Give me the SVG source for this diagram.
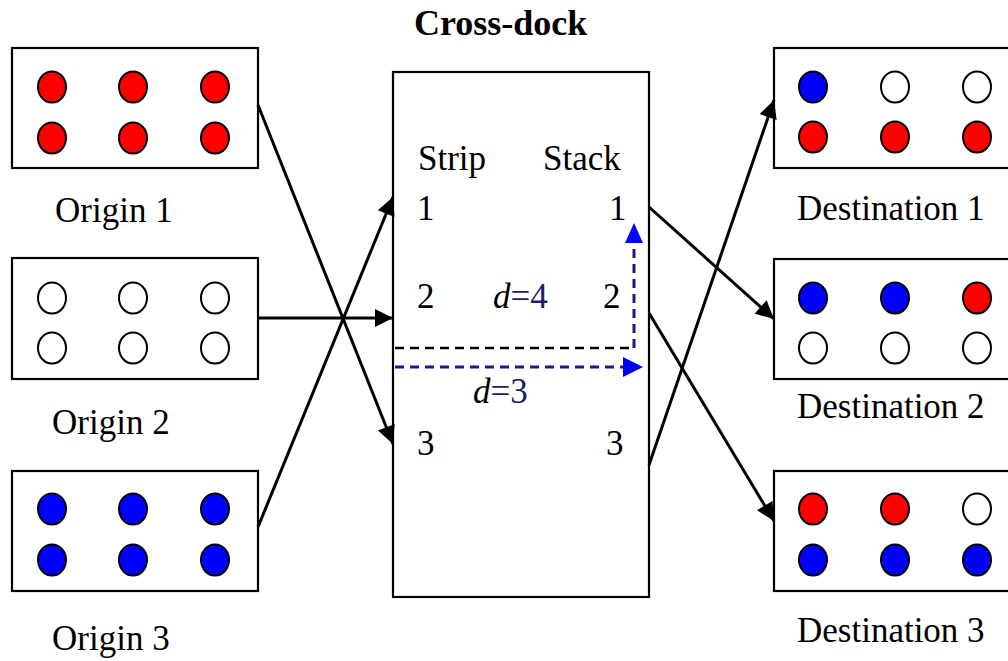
<svg xmlns="http://www.w3.org/2000/svg" width="1008" height="661" viewBox="0 0 1008 661">
  <style>
    .box { fill: #ffffff; stroke: #000000; stroke-width: 2.2; }
    .lbl { font-family: "Liberation Serif", "Times New Roman", serif; font-size: 35px; fill: #000000; }
    .title { font-family: "Liberation Serif", "Times New Roman", serif; font-size: 36px; font-weight: bold; fill: #000000; }
    .dot { stroke: #000000; stroke-width: 2; }
    .red { fill: #ff0000; }
    .blue { fill: #0000ff; }
    .empty { fill: #ffffff; }
    .flow { stroke: #000000; stroke-width: 3; fill: none; marker-end: url(#arrow); }
    .dash-k { stroke: #000000; stroke-width: 2.5; stroke-dasharray: 9 6; fill: none; }
    .dash-b { stroke: #1a1a8c; stroke-width: 3; stroke-dasharray: 9 6; fill: none; }
    .navy { fill: #1a1a6e; }
  </style>
  <defs>
    <marker id="arrow" viewBox="0 0 10 10" refX="10" refY="5" markerWidth="7.5" markerHeight="6" markerUnits="strokeWidth" orient="auto">
      <path d="M0,0 L10,5 L0,10 z" fill="#000000"/>
    </marker>
  </defs>

  <rect width="1008" height="661" fill="#ffffff"/>

  <!-- Origins -->
  <g id="origin1">
    <rect class="box" x="12" y="48" width="246" height="120"/>
    <g class="dot red">
      <ellipse cx="52" cy="87" rx="14" ry="15.5"/><ellipse cx="133" cy="87" rx="14" ry="15.5"/><ellipse cx="215" cy="87" rx="14" ry="15.5"/>
      <ellipse cx="52" cy="138" rx="14" ry="15.5"/><ellipse cx="133" cy="138" rx="14" ry="15.5"/><ellipse cx="215" cy="138" rx="14" ry="15.5"/>
    </g>
    <text class="lbl" x="55" y="222">Origin 1</text>
  </g>

  <g id="origin2">
    <rect class="box" x="12" y="258" width="246" height="121"/>
    <g class="dot empty">
      <ellipse cx="52" cy="298" rx="14" ry="15.5"/><ellipse cx="133" cy="298" rx="14" ry="15.5"/><ellipse cx="215" cy="298" rx="14" ry="15.5"/>
      <ellipse cx="52" cy="348" rx="14" ry="15.5"/><ellipse cx="133" cy="348" rx="14" ry="15.5"/><ellipse cx="215" cy="348" rx="14" ry="15.5"/>
    </g>
    <text class="lbl" x="52" y="434">Origin 2</text>
  </g>

  <g id="origin3">
    <rect class="box" x="12" y="471" width="246" height="120"/>
    <g class="dot blue">
      <ellipse cx="52" cy="509" rx="14" ry="15.5"/><ellipse cx="133" cy="509" rx="14" ry="15.5"/><ellipse cx="215" cy="509" rx="14" ry="15.5"/>
      <ellipse cx="52" cy="560" rx="14" ry="15.5"/><ellipse cx="133" cy="560" rx="14" ry="15.5"/><ellipse cx="215" cy="560" rx="14" ry="15.5"/>
    </g>
    <text class="lbl" x="52" y="650">Origin 3</text>
  </g>

  <!-- Cross-dock with strip and stack doors -->
  <g id="crossdock">
    <text class="title" x="414" y="35">Cross-dock</text>
    <rect class="box" x="393" y="72" width="256" height="525"/>
    <text class="lbl" x="418" y="170">Strip</text>
    <text class="lbl" x="543" y="170">Stack</text>
    <text class="lbl" x="417" y="220">1</text>
    <text class="lbl" x="609" y="220">1</text>
    <text class="lbl" x="417" y="308">2</text>
    <text class="lbl" x="603" y="308">2</text>
    <text class="lbl" x="417" y="455">3</text>
    <text class="lbl" x="606" y="455">3</text>
  </g>

  <!-- Travel distances inside the dock -->
  <g id="distances">
    <path class="dash-k" d="M395,348 H634"/>
    <path class="dash-b" d="M634,348 V240"/>
    <path d="M625,243 L634,223 L643,243 z" fill="#0000ff"/>
    <path class="dash-b" d="M395,367 H624"/>
    <path d="M623,357 L643,367 L623,377 z" fill="#0000ff"/>
    <text class="lbl" x="493" y="308"><tspan font-style="italic">d</tspan><tspan class="navy">=4</tspan></text>
    <text class="lbl" x="473" y="403"><tspan font-style="italic">d</tspan><tspan class="navy">=3</tspan></text>
  </g>

  <!-- Destinations -->
  <g id="destination1">
    <rect class="box" x="774" y="48" width="245" height="120"/>
    <g class="dot">
      <ellipse class="blue" cx="813" cy="87" rx="14" ry="15.5"/><ellipse class="empty" cx="895" cy="87" rx="14" ry="15.5"/><ellipse class="empty" cx="977" cy="87" rx="14" ry="15.5"/>
      <ellipse class="red" cx="813" cy="137" rx="14" ry="15.5"/><ellipse class="red" cx="895" cy="137" rx="14" ry="15.5"/><ellipse class="red" cx="977" cy="137" rx="14" ry="15.5"/>
    </g>
    <text class="lbl" x="797" y="220">Destination 1</text>
  </g>

  <g id="destination2">
    <rect class="box" x="774" y="259" width="245" height="120"/>
    <g class="dot">
      <ellipse class="blue" cx="813" cy="298" rx="14" ry="15.5"/><ellipse class="blue" cx="895" cy="298" rx="14" ry="15.5"/><ellipse class="red" cx="977" cy="298" rx="14" ry="15.5"/>
      <ellipse class="empty" cx="813" cy="348" rx="14" ry="15.5"/><ellipse class="empty" cx="895" cy="348" rx="14" ry="15.5"/><ellipse class="empty" cx="977" cy="348" rx="14" ry="15.5"/>
    </g>
    <text class="lbl" x="797" y="418">Destination 2</text>
  </g>

  <g id="destination3">
    <rect class="box" x="774" y="471" width="245" height="120"/>
    <g class="dot">
      <ellipse class="red" cx="813" cy="509" rx="14" ry="15.5"/><ellipse class="red" cx="895" cy="509" rx="14" ry="15.5"/><ellipse class="empty" cx="977" cy="509" rx="14" ry="15.5"/>
      <ellipse class="blue" cx="813" cy="560" rx="14" ry="15.5"/><ellipse class="blue" cx="895" cy="560" rx="14" ry="15.5"/><ellipse class="blue" cx="977" cy="560" rx="14" ry="15.5"/>
    </g>
    <text class="lbl" x="797" y="642">Destination 3</text>
  </g>

  <!-- Flows between origins, dock doors and destinations -->
  <g id="connectors">
    <line class="flow" x1="258" y1="105" x2="393" y2="444"/>
    <line class="flow" x1="258" y1="318" x2="393" y2="318"/>
    <line class="flow" x1="258" y1="527" x2="393" y2="197"/>
    <line class="flow" x1="649" y1="207" x2="774" y2="319"/>
    <line class="flow" x1="649" y1="313" x2="774" y2="521"/>
    <line class="flow" x1="649" y1="465" x2="774" y2="100"/>
  </g>
</svg>
